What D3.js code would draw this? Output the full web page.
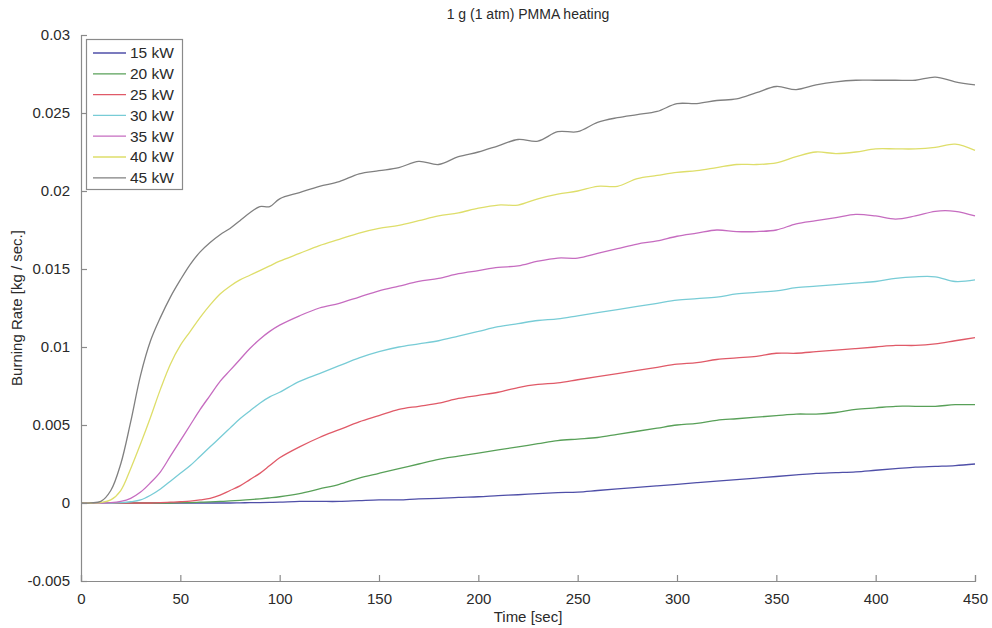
<!DOCTYPE html>
<html>
<head>
<meta charset="utf-8">
<script src="https://cdn.jsdelivr.net/npm/d3@7"></script>
<style>
  html, body { margin: 0; padding: 0; background: #fff; }
  svg { display: block; font-family: "Liberation Sans", Arial, Helvetica, sans-serif; }
</style>
</head>
<body>
<svg id="chart" width="992" height="628"></svg>
<script>
// Sample times [sec]
const times = [0,5,10,15,20,25,30,35,40,45,50,55,60,65,70,75,80,85,90,95,
  100,110,120,130,140,150,160,170,180,190,200,210,220,230,240,250,260,270,280,290,
  300,310,320,330,340,350,360,370,380,390,400,410,420,430,440,450];

const seriesNames = ["15 kW","20 kW","25 kW","30 kW","35 kW","40 kW","45 kW"];
const seriesColors = ["#4f4fa8","#58a058","#e05a68","#78ccd6","#c66cc0","#dede6a","#808080"];

// Burning rate [kg/sec] per heat flux
const rate15 = [0,0,0,0,0,0,0,0,0,0,0,0,0,0,0,0,0.00001,0.00002,0.00003,0.00004,
  0.00005,0.0001,0.0001,0.0001,0.00015,0.0002,0.0002,0.00027,0.0003,0.00036,0.0004,0.00047,0.00053,0.0006,0.00066,0.0007,0.0008,0.0009,0.001,0.0011,
  0.0012,0.0013,0.0014,0.0015,0.0016,0.0017,0.0018,0.0019,0.00195,0.002,0.0021,0.0022,0.0023,0.00235,0.0024,0.0025];
const rate20 = [0,0,0,0,0,0,0,0,0,0,0.00002,0.00003,0.00005,0.00007,0.0001,0.00013,0.00017,0.00022,0.00027,0.00033,
  0.0004,0.0006,0.0009,0.0012,0.0016,0.0019,0.0022,0.0025,0.0028,0.003,0.0032,0.0034,0.0036,0.0038,0.004,0.0041,0.0042,0.0044,0.0046,0.0048,
  0.005,0.0051,0.0053,0.0054,0.0055,0.0056,0.0057,0.0057,0.0058,0.006,0.0061,0.0062,0.0062,0.0062,0.0063,0.0063];
const rate25 = [0,0,0,0,0,0,0,0,0.00002,0.00005,0.00008,0.00012,0.0002,0.0003,0.0005,0.0008,0.0011,0.0015,0.0019,0.0024,
  0.0029,0.0036,0.0042,0.0047,0.0052,0.0056,0.006,0.0062,0.0064,0.0067,0.0069,0.0071,0.0074,0.0076,0.0077,0.0079,0.0081,0.0083,0.0085,0.0087,
  0.0089,0.009,0.0092,0.0093,0.0094,0.0096,0.0096,0.0097,0.0098,0.0099,0.01,0.0101,0.0101,0.0102,0.0104,0.0106];
const rate30 = [0,0,0,0,0.00002,0.00008,0.0002,0.0005,0.0009,0.0014,0.0019,0.0024,0.003,0.0036,0.0042,0.0048,0.0054,0.0059,0.0064,0.0068,
  0.0071,0.0078,0.0083,0.0088,0.0093,0.0097,0.01,0.0102,0.0104,0.0107,0.011,0.0113,0.0115,0.0117,0.0118,0.012,0.0122,0.0124,0.0126,0.0128,
  0.013,0.0131,0.0132,0.0134,0.0135,0.0136,0.0138,0.0139,0.014,0.0141,0.0142,0.0144,0.0145,0.0145,0.0142,0.0143];
const rate35 = [0,0,0,0.00002,0.0001,0.0003,0.0007,0.0013,0.002,0.003,0.004,0.005,0.006,0.0069,0.0078,0.0085,0.0092,0.0099,0.0105,0.011,
  0.0114,0.012,0.0125,0.0128,0.0132,0.0136,0.0139,0.0142,0.0144,0.0147,0.0149,0.0151,0.0152,0.0155,0.0157,0.0157,0.016,0.0163,0.0166,0.0168,
  0.0171,0.0173,0.0175,0.0174,0.0174,0.0175,0.0179,0.0181,0.0183,0.0185,0.0184,0.0182,0.0184,0.0187,0.0187,0.0184];
const rate40 = [0,0,0.00003,0.0002,0.0008,0.0022,0.0038,0.0055,0.0073,0.0089,0.0101,0.011,0.0119,0.0127,0.0134,0.0139,0.0143,0.0146,0.0149,0.0152,
  0.0155,0.016,0.0165,0.0169,0.0173,0.0176,0.0178,0.0181,0.0184,0.0186,0.0189,0.0191,0.0191,0.0195,0.0198,0.02,0.0203,0.0203,0.0208,0.021,
  0.0212,0.0213,0.0215,0.0217,0.0217,0.0218,0.0222,0.0225,0.0224,0.0225,0.0227,0.0227,0.0227,0.0228,0.023,0.0226];
const rate45 = [0,0.00001,0.0001,0.0008,0.0025,0.0052,0.0082,0.0104,0.0119,0.0132,0.0143,0.0153,0.0161,0.0167,0.0172,0.0176,0.0181,0.0186,0.019,0.019,
  0.0195,0.0199,0.0203,0.0206,0.0211,0.0213,0.0215,0.0219,0.0217,0.0222,0.0225,0.0229,0.0233,0.0232,0.0238,0.0238,0.0244,0.0247,0.0249,0.0251,
  0.0256,0.0256,0.0258,0.0259,0.0263,0.0267,0.0265,0.0268,0.027,0.0271,0.0271,0.0271,0.0271,0.0273,0.027,0.0268];

const seriesValues = [rate15, rate20, rate25, rate30, rate35, rate40, rate45];

const xTicks = [0,50,100,150,200,250,300,350,400,450];
const yTicks = [-0.005,0,0.005,0.01,0.015,0.02,0.025,0.03];
const yTickLabels = ["-0.005","0","0.005","0.01","0.015","0.02","0.025","0.03"];

const titleText = "1 g (1 atm) PMMA heating";
const xLabel = "Time [sec]";
const yLabel = "Burning Rate [kg / sec.]";

const svg = d3.select("#chart");
const margin = {left: 81, right: 17, top: 35, bottom: 47};
const W = 992, H = 628;

const x = d3.scaleLinear().domain([0, 450]).range([margin.left, W - margin.right]);
const y = d3.scaleLinear().domain([-0.005, 0.03]).range([H - margin.bottom, margin.top]);

const axisColor = "#8a8a8a";
const textColor = "#2a2a2a";

// Curves
const line = d3.line()
  .x((d, i) => x(times[i]))
  .y(d => y(d))
  .curve(d3.curveCatmullRom.alpha(0.5));

svg.append("g").selectAll("path")
  .data(seriesValues)
  .join("path")
  .attr("d", d => line(d))
  .attr("fill", "none")
  .attr("stroke", (d, i) => seriesColors[i])
  .attr("stroke-width", 1.3);

// Axes (ticks pointing inward)
const xAxis = d3.axisBottom(x).tickValues(xTicks).tickSize(-6).tickPadding(12).tickFormat(d3.format("d"));
const gx = svg.append("g").attr("transform", `translate(0,${y(-0.005)})`).call(xAxis);

const yAxis = d3.axisLeft(y).tickValues(yTicks).tickSize(-6).tickPadding(11)
  .tickFormat((d, i) => yTickLabels[i]);
const gy = svg.append("g").attr("transform", `translate(${x(0)},0)`).call(yAxis);

[gx, gy].forEach(g => {
  g.select(".domain").attr("stroke", axisColor).attr("stroke-width", 1.2);
  g.selectAll(".tick line").attr("stroke", axisColor).attr("stroke-width", 1.2);
  g.selectAll(".tick text").attr("fill", textColor).attr("font-size", 15)
    .attr("font-family", "Liberation Sans, Arial, sans-serif");
});
gx.selectAll(".tick text").attr("dy", "0.71em");

// Title and axis labels
svg.append("text").attr("x", (x(0) + x(450)) / 2).attr("y", 19)
  .attr("text-anchor", "middle").attr("font-size", 14).attr("fill", textColor).text(titleText);
svg.append("text").attr("x", (x(0) + x(450)) / 2).attr("y", 622)
  .attr("text-anchor", "middle").attr("font-size", 15).attr("fill", textColor).text(xLabel);
svg.append("text")
  .attr("transform", `translate(22,${(y(-0.005) + y(0.03)) / 2}) rotate(-90)`)
  .attr("text-anchor", "middle").attr("font-size", 15).attr("fill", textColor).text(yLabel);

// Legend
const legend = svg.append("g");
legend.append("rect").attr("x", 86.5).attr("y", 39.5).attr("width", 96).attr("height", 150)
  .attr("fill", "#fff").attr("stroke", axisColor).attr("stroke-width", 1.2);
const items = legend.selectAll("g.item").data(seriesNames).join("g")
  .attr("transform", (d, i) => `translate(0,${53 + i * 20.8})`);
items.append("line").attr("x1", 93).attr("x2", 126).attr("y1", 0).attr("y2", 0)
  .attr("stroke", (d, i) => seriesColors[i]).attr("stroke-width", 1.3);
items.append("text").attr("x", 130).attr("y", 0).attr("dy", "0.35em")
  .attr("font-size", 15.5).attr("fill", textColor).text(d => d);
</script>
</body>
</html>
